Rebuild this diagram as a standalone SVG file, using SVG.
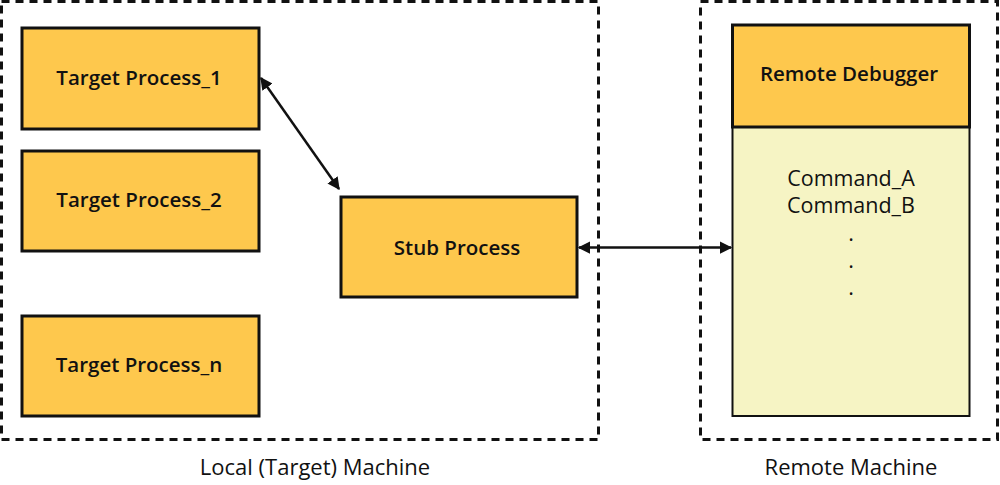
<svg xmlns="http://www.w3.org/2000/svg" width="1000" height="485" viewBox="0 0 1000 485">
<defs>
<style>
.frame{fill:none;stroke:#111;stroke-width:3;stroke-dasharray:8 6}
.box{fill:#FEC84D;stroke:#111;stroke-width:3}
.body{fill:#F6F4C4;stroke:#111;stroke-width:2}
.lbl{font-family:"Open Sans","Noto Sans",sans-serif;font-size:20.5px;font-weight:600;fill:#111;text-anchor:middle;dominant-baseline:central}
.txt{font-family:"Open Sans","Noto Sans",sans-serif;font-size:21.5px;font-weight:400;fill:#111;text-anchor:middle;dominant-baseline:central}
.cap{font-family:"Open Sans","Noto Sans",sans-serif;font-size:22px;font-weight:400;fill:#111;text-anchor:middle;dominant-baseline:central}
.conn{stroke:#111;stroke-width:2.5;fill:none;marker-start:url(#ah);marker-end:url(#ah)}
</style>
<marker id="ah" viewBox="0 0 10 10" refX="9" refY="5" markerWidth="5" markerHeight="5" orient="auto-start-reverse" markerUnits="strokeWidth">
<path d="M0,0 L10,5 L0,10 z" fill="#111"/>
</marker>
</defs>
<g id="local-machine">
<rect class="frame" x="1.5" y="1.5" width="597" height="438"/>
<text class="cap" x="315" y="466">Local (Target) Machine</text>
</g>
<g id="remote-machine">
<rect class="frame" x="700.5" y="1.5" width="297" height="438"/>
<text class="cap" x="851" y="466">Remote Machine</text>
</g>
<g id="target-process-1">
<rect class="box" x="22" y="28" width="237" height="101"/>
<text class="lbl" x="139" y="77">Target Process_1</text>
</g>
<g id="target-process-2">
<rect class="box" x="22" y="151" width="237" height="100"/>
<text class="lbl" x="139" y="199">Target Process_2</text>
</g>
<g id="target-process-n">
<rect class="box" x="22" y="316" width="237" height="100"/>
<text class="lbl" x="139" y="364">Target Process_n</text>
</g>
<g id="stub-process">
<rect class="box" x="341" y="197" width="236" height="100"/>
<text class="lbl" x="457" y="247">Stub Process</text>
</g>
<g id="remote-debugger">
<rect class="body" x="732.5" y="127" width="237" height="289"/>
<rect class="box" x="732.5" y="25" width="237" height="102"/>
<text class="lbl" x="849" y="73">Remote Debugger</text>
<text class="txt" x="851" y="177">Command_A</text>
<text class="txt" x="851" y="204">Command_B</text>
<text class="txt" x="851" y="232">.</text>
<text class="txt" x="851" y="259">.</text>
<text class="txt" x="851" y="286">.</text>
</g>
<g id="connectors">
<line class="conn" x1="261" y1="78" x2="339" y2="189"/>
<line class="conn" x1="579" y1="247.5" x2="731" y2="247.5"/>
</g>
</svg>
